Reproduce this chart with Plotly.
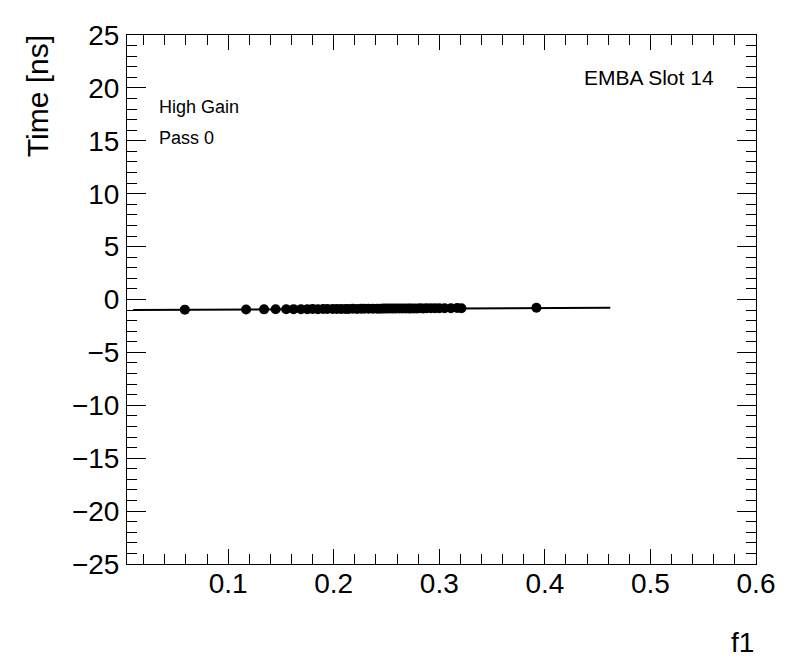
import plotly.graph_objects as go

# Data
f1_values = [0.059, 0.117, 0.134, 0.145, 0.155, 0.162, 0.169, 0.175, 0.180, 0.185,
             0.190, 0.194, 0.199, 0.203, 0.207, 0.211, 0.214, 0.218, 0.222, 0.226,
             0.229, 0.233, 0.237, 0.241, 0.244, 0.247, 0.250, 0.253, 0.256, 0.259,
             0.262, 0.265, 0.268, 0.271, 0.273, 0.276, 0.279, 0.282, 0.285, 0.288,
             0.292, 0.296, 0.300, 0.305, 0.311, 0.317, 0.321, 0.392]
time_values = [-0.96, -0.95, -0.93, -0.92, -0.92, -0.91, -0.92, -0.91, -0.90, -0.91,
               -0.90, -0.90, -0.89, -0.90, -0.89, -0.89, -0.89, -0.88, -0.89, -0.88,
               -0.88, -0.88, -0.87, -0.88, -0.87, -0.86, -0.86, -0.85, -0.86, -0.85,
               -0.85, -0.85, -0.84, -0.85, -0.84, -0.84, -0.84, -0.83, -0.84, -0.83,
               -0.83, -0.82, -0.83, -0.82, -0.82, -0.81, -0.82, -0.78]

# Linear fit parameters and range
fit_intercept = -1.0
fit_slope = 0.5
fit_range = [0.01, 0.462]

x_range = [0.0042, 0.6]
y_range = [-25, 25]

FONT = "Liberation Sans, Arial, Helvetica, sans-serif"

fig = go.Figure()
fig.add_trace(go.Scatter(
    x=fit_range,
    y=[fit_intercept + fit_slope * v for v in fit_range],
    mode="lines", line=dict(color="black", width=2), showlegend=False,
))
fig.add_trace(go.Scatter(
    x=f1_values, y=time_values, mode="markers",
    marker=dict(color="black", size=10, symbol="circle"), showlegend=False,
))

axis_common = dict(
    showgrid=False, zeroline=False, showline=True, linecolor="black", linewidth=1,
    mirror="ticks", ticks="inside", tickcolor="black", tickwidth=1,
    tickfont=dict(family=FONT, size=28, color="black"),
)

fig.update_xaxes(range=x_range, tick0=0, dtick=0.1, ticklen=15,
                 minor=dict(dtick=0.02, ticklen=10, ticks="inside", tickcolor="black"),
                 ticklabelstandoff=-6,
                 **axis_common)
fig.update_yaxes(range=y_range, tick0=0, dtick=5, ticklen=19,
                 minor=dict(dtick=1, ticklen=10, ticks="inside", tickcolor="black"),
                 ticklabelstandoff=1,
                 **axis_common)

annotations = [
    dict(text="Time [ns]", textangle=-90, xref="paper", yref="paper",
         x=-0.141, y=1.004, xanchor="center", yanchor="top", showarrow=False,
         font=dict(family=FONT, size=30, color="black")),
    dict(text="f1", xref="paper", yref="paper", x=1.0, y=-0.115,
         xanchor="right", yanchor="top", showarrow=False,
         font=dict(family=FONT, size=28, color="black")),
    dict(text="EMBA Slot 14", xref="paper", yref="paper", x=0.936, y=0.92,
         xanchor="right", yanchor="middle", showarrow=False,
         font=dict(family=FONT, size=21, color="black")),
    dict(text="High Gain", xref="paper", yref="paper", x=0.048, y=0.863,
         xanchor="left", yanchor="middle", showarrow=False,
         font=dict(family=FONT, size=18, color="black")),
    dict(text="Pass 0", xref="paper", yref="paper", x=0.048, y=0.806,
         xanchor="left", yanchor="middle", showarrow=False,
         font=dict(family=FONT, size=18, color="black")),
]

# The page body has an 8px margin, so the figure is shifted accordingly
fig.update_layout(
    width=788, height=664,
    margin=dict(l=119, r=40, t=25, b=108),
    paper_bgcolor="white", plot_bgcolor="white",
    annotations=annotations,
    font=dict(family=FONT, color="black"),
)

fig.write_html("out.html")
